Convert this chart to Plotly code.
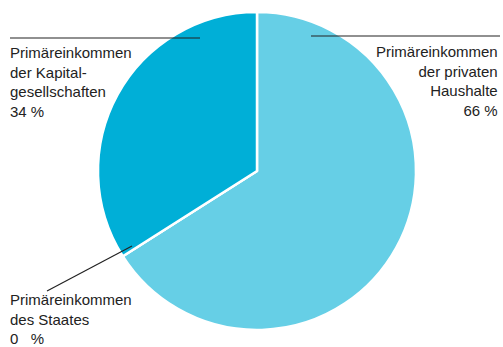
import plotly.graph_objects as go

# Primary income shares
labels = ["Primäreinkommen der privaten Haushalte",
          "Primäreinkommen des Staates",
          "Primäreinkommen der Kapitalgesellschaften"]
values = [66, 0, 34]
colors = ["#66CFE6", "#FFFFFF", "#00AFD7"]

W, H = 503, 347
cx, cy, r = 257, 171, 159  # pie centre and radius in pixels


def px(x):
    return x / W


def py(y):
    return 1 - y / H


fig = go.Figure(go.Pie(
    labels=labels,
    values=values,
    sort=False,
    direction="clockwise",
    rotation=0,
    marker=dict(colors=colors, line=dict(color="white", width=2.5)),
    textinfo="none",
    hoverinfo="label+percent",
    showlegend=False,
    domain=dict(x=[px(cx - r), px(cx + r)], y=[py(cy + r), py(cy - r)]),
))

font = dict(family="Liberation Sans Narrow, Arial Narrow, Liberation Sans, sans-serif",
            size=15, color="#222222")

annots = [
    dict(text="Primäreinkommen<br>der Kapital-<br>gesellschaften<br>34 %",
         x=px(8), y=py(42), xanchor="left", yanchor="top", align="left"),
    dict(text="Primäreinkommen<br>der privaten<br>Haushalte<br>66 %",
         x=px(500), y=py(41), xanchor="right", yanchor="top", align="right"),
    dict(text="Primäreinkommen<br>des Staates<br>0   %",
         x=px(8), y=py(289), xanchor="left", yanchor="top", align="left"),
]
for a in annots:
    fig.add_annotation(xref="paper", yref="paper", showarrow=False, font=font, **a)

# leader lines
leaders = [
    (10, 38, 200, 38),
    (311, 36, 500, 36),
    (47, 291, 132, 246),
]
for x0, y0, x1, y1 in leaders:
    fig.add_shape(type="line", xref="paper", yref="paper",
                  x0=px(x0), y0=py(y0), x1=px(x1), y1=py(y1),
                  line=dict(color="#222222", width=1.2))

fig.update_layout(
    width=W, height=H,
    margin=dict(l=0, r=0, t=0, b=0),
    paper_bgcolor="white",
    plot_bgcolor="white",
)

fig.write_html("out.html")
